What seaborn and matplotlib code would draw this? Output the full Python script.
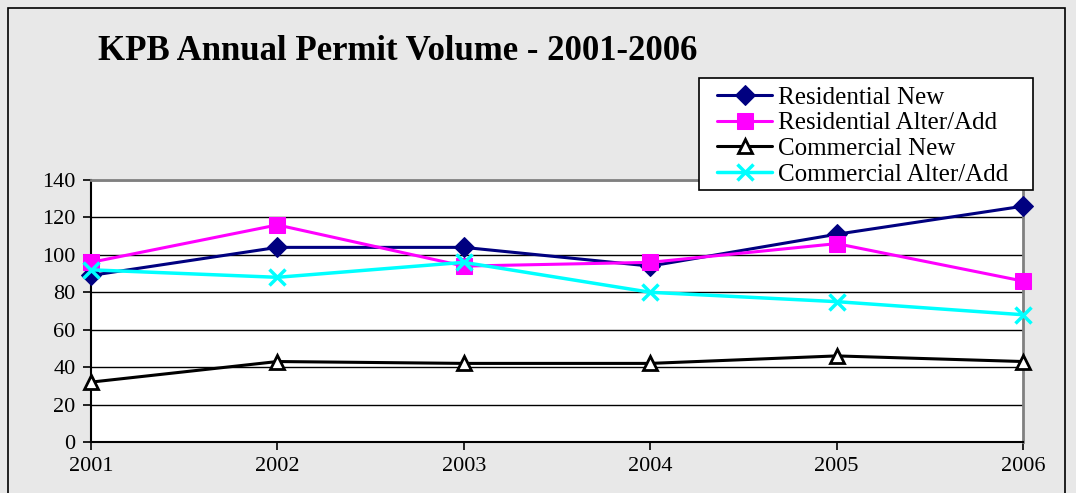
import matplotlib
matplotlib.use("Agg")
import matplotlib.pyplot as plt
import matplotlib.patches as mpatches
import pandas as pd
import seaborn as sns

years = [2001, 2002, 2003, 2004, 2005, 2006]
series_names = ["Residential New", "Residential Alter/Add",
                "Commercial New", "Commercial Alter/Add"]
residential_new = [89, 104, 104, 94, 111, 126]
residential_alter = [96, 116, 94, 96, 106, 86]
commercial_new = [32, 43, 42, 42, 46, 43]
commercial_alter = [92, 88, 96, 80, 75, 68]

# long-form table for seaborn
df = pd.DataFrame({
    "year": years * 4,
    "value": residential_new + residential_alter + commercial_new + commercial_alter,
    "series": [s for s in series_names for _ in years],
})

palette = {"Residential New": "#000080", "Residential Alter/Add": "#ff00ff",
           "Commercial New": "black", "Commercial Alter/Add": "#00ffff"}
markers = {"Residential New": "D", "Residential Alter/Add": "s",
           "Commercial New": "^", "Commercial Alter/Add": "X"}

sns.set_style("white")
plt.rcParams["font.family"] = ["Liberation Serif", "DejaVu Serif"]
plt.rcParams["text.color"] = "black"
plt.rcParams["xtick.color"] = "black"
plt.rcParams["ytick.color"] = "black"

W, H = 1076, 493
fig = plt.figure(figsize=(W / 100, H / 100), dpi=100)
fig.patch.set_facecolor("#e8e8e8")
fig.patches.append(mpatches.Rectangle((8 / W, -0.1), 1057 / W, 1.1 - 8 / H,
                                      transform=fig.transFigure, fill=False,
                                      edgecolor="black", linewidth=1.2))

ax = fig.add_axes([91 / W, 1 - 442 / H, 932 / W, 262 / H])
ax.set_facecolor("white")

for name in series_names:
    sub = df[df["series"] == name]
    if name == "Commercial New":
        ax.plot(sub["year"], sub["value"], color="black", lw=2.2, marker="^",
                markersize=10, markerfacecolor="white", markeredgecolor="black",
                markeredgewidth=2, label=name, clip_on=False, zorder=3)
    elif name == "Commercial Alter/Add":
        ax.plot(sub["year"], sub["value"], color="#00ffff", lw=2.5, marker="x",
                markersize=12, markeredgewidth=2.5, label=name, clip_on=False, zorder=3)
    else:
        sns.lineplot(x="year", y="value", data=sub, color=palette[name], lw=2.2,
                     marker=markers[name], markersize=11 if name == "Residential Alter/Add" else 10,
                     markeredgecolor=palette[name], label=name, ax=ax,
                     clip_on=False, zorder=3)

ax.set_xlim(2001, 2006)
ax.set_ylim(0, 140)
ax.set_yticks(range(0, 141, 20))
ax.set_xticks(years)
ax.yaxis.grid(True, color="black", lw=1)
ax.set_axisbelow(True)
ax.set_xlabel("")
ax.set_ylabel("")
ax.tick_params(axis="both", labelsize=16, direction="out", length=6, width=1.2,
               color="black", labelcolor="black", left=True, bottom=True)
ax.tick_params(axis="x", pad=5)
ax.tick_params(axis="y", pad=5)

for side in ["top", "right"]:
    ax.spines[side].set_color("#808080")
    ax.spines[side].set_linewidth(2)
for side in ["left", "bottom"]:
    ax.spines[side].set_color("black")
    ax.spines[side].set_linewidth(1.5)

fig.text(98 / W, 1 - 52 / H, "KPB Annual Permit Volume - 2001-2006",
         fontsize=25, fontweight="bold", va="center", ha="left", color="black")

# legend box drawn separately so its padding can match
box = mpatches.Rectangle((699 / W, 1 - 190 / H), 334 / W, 112 / H,
                         transform=fig.transFigure, facecolor="white",
                         edgecolor="black", linewidth=1.2, zorder=5, clip_on=False)
ax.add_artist(box)
leg = ax.legend(loc="upper left", bbox_to_anchor=(717 / W, 1 - 86 / H),
                bbox_transform=fig.transFigure, fontsize=18, frameon=False,
                handlelength=2.2, handletextpad=0.25, borderpad=0,
                labelspacing=0.13, borderaxespad=0)
leg.set_zorder(6)
for t in leg.get_texts():
    t.set_color("black")

plt.savefig("out.png", dpi=100, facecolor=fig.get_facecolor())
